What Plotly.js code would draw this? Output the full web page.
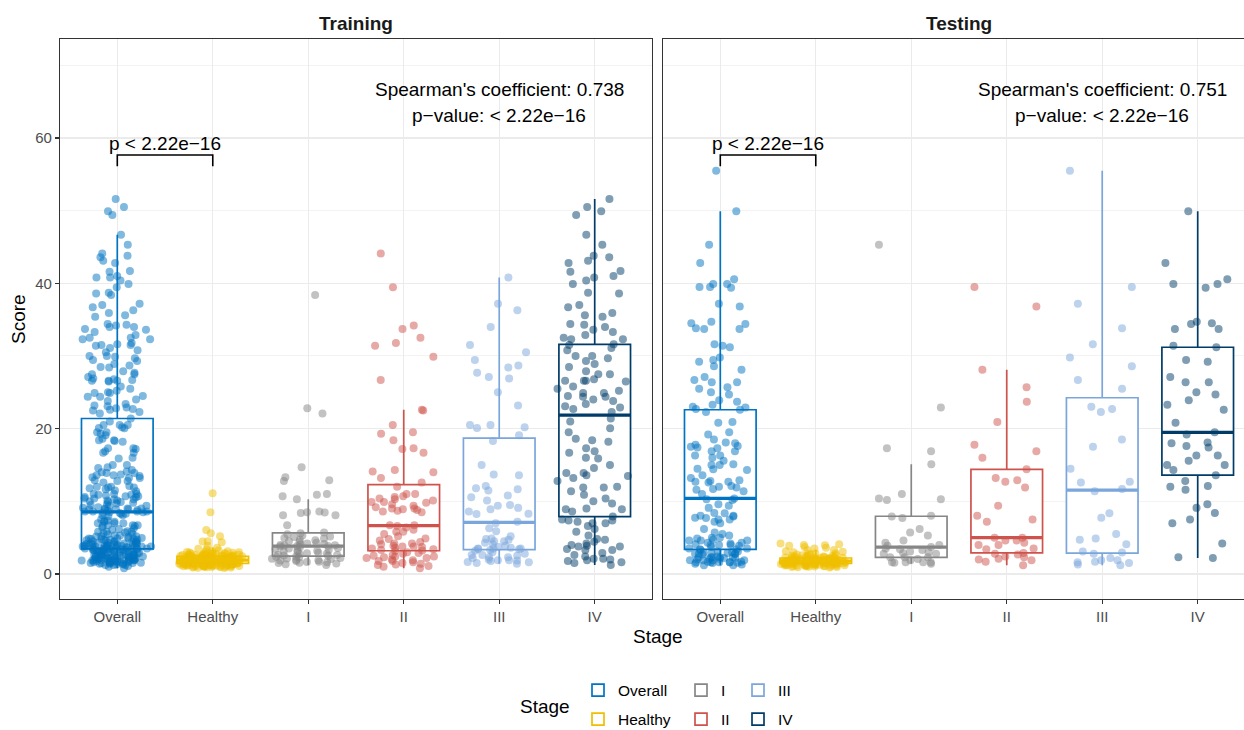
<!DOCTYPE html>
<html>
<head>
<meta charset="utf-8">
<script src="https://cdn.plot.ly/plotly-3.0.1.min.js"></script>
<style>
  html, body { margin: 0; padding: 0; overflow: hidden; background: #ffffff; }
  #chart { width: 1256px; height: 730px; }
</style>
</head>
<body>
<div id="chart"></div>
<script>
// ---------- categories / labels ----------
const stages = ['Overall', 'Healthy', 'I', 'II', 'III', 'IV'];
const facetNames = ['Training', 'Testing'];
const spearmanText = ["Spearman's coefficient: 0.738", "Spearman's coefficient: 0.751"];
const spearmanP = ['p\u2212value: < 2.22e\u221216', 'p\u2212value: < 2.22e\u221216'];
const compareP = ['p < 2.22e\u221216', 'p < 2.22e\u221216'];
const yTicks = [0, 20, 40, 60];

// ---------- Training scores ----------
const trainHealthy = [11.1, 8.5, 6.05, 5.6, 5.2, 4.5, 4.46, 4.38, 3.9, 3.62, 3.48, 3.41, 3.27, 3.18, 3.12, 3.03, 2.97, 2.93, 2.88, 2.81, 2.79, 2.72, 2.66, 2.64, 2.57, 2.55, 2.51, 2.47, 2.44, 2.43,
  2.41, 2.46, 2.52, 2.58, 2.63, 2.69, 2.74, 2.83, 2.91, 3.01, 2.45, 2.49, 2.54, 2.61, 2.77, 2.86, 3.08, 2.42, 2.5, 2.67,
  2.39, 2.37, 2.33, 2.31, 2.29, 2.26, 2.22, 2.21, 2.17, 2.15, 2.13, 2.11, 2.09, 2.06, 2.06, 2.03, 2.01, 1.99, 1.98, 1.96, 1.95, 1.93, 1.93, 1.92, 1.91, 1.9, 1.9,
  1.91, 1.94, 1.97, 2.0, 2.02, 2.05, 2.08, 2.1, 2.12, 2.14, 2.16, 2.19, 2.23, 2.25, 2.28, 2.3, 2.32, 2.35, 2.36, 2.38,
  1.88, 1.87, 1.85, 1.83, 1.83, 1.81, 1.79, 1.76, 1.76, 1.73, 1.71, 1.7, 1.69, 1.66, 1.64, 1.63, 1.61, 1.6, 1.58, 1.56, 1.55, 1.53, 1.52, 1.5, 1.49, 1.48, 1.47,
  1.48, 1.5, 1.53, 1.55, 1.57, 1.59, 1.62, 1.65, 1.67, 1.68, 1.72, 1.74, 1.75, 1.78, 1.8, 1.82, 1.84, 1.86, 1.87, 1.89,
  1.46, 1.44, 1.43, 1.41, 1.39, 1.36, 1.35, 1.33, 1.31, 1.29, 1.28, 1.26, 1.24, 1.22, 1.19, 1.18, 1.15, 1.13, 1.11, 1.09, 1.06, 1.04, 1.01, 0.98, 0.95, 0.92, 0.88, 0.83,
  0.86, 0.9, 0.96, 1.0, 1.03, 1.07, 1.1, 1.12, 1.16, 1.2, 1.23, 1.25, 1.27, 1.3, 1.32, 1.37, 1.4, 1.42, 1.45, 1.46];
const trainI = [38.4, 22.8, 22.1, 14.7, 13.3, 12.9, 12.8, 11.0, 10.9, 10.7, 10.3, 8.5, 8.45, 8.1, 8.1, 8.6, 8.4, 6.7, 5.7,
  5.62, 5.48, 5.3, 5.15, 5.1, 4.95, 4.88, 4.7, 4.66, 4.52, 4.41, 4.3, 4.18, 4.12, 4.05, 3.99, 3.96, 3.91, 3.87,
  3.82, 3.78, 3.7, 3.58, 3.52, 3.44, 3.33, 3.25, 3.2, 3.12, 3.05, 2.94, 2.86, 2.8, 2.74, 2.66, 2.6, 2.55, 2.5,
  2.42, 2.38, 2.3, 2.2, 2.14, 2.1, 2.05, 1.96, 1.9, 1.85, 1.8, 1.7, 1.65, 1.6, 1.55, 1.5, 1.44, 1.35, 1.24];
const trainII = [44.1, 39.45, 34.2, 33.7, 32.5, 31.8, 31.4, 29.9, 26.7, 22.6, 22.5, 20.5, 19.5, 19.3, 18.4, 17.3, 17.2, 16.7, 14.3, 14.1, 14.0, 13.2, 12.6,
  12.0, 11.0, 11.0, 10.7, 10.4, 10.1, 9.9, 9.9, 9.8, 9.0, 9.0, 8.6, 8.7, 9.4, 10.6, 8.8, 9.2, 9.6, 8.5, 10.3, 8.9, 6.7, 6.7,
  6.6, 6.4, 6.1, 5.8, 5.8, 5.5, 5.2, 4.9, 4.8, 4.6, 4.4, 4.2, 4.2, 4.1, 3.9, 3.8, 3.8, 3.7, 3.6, 3.5, 3.4, 3.3, 3.25,
  3.15, 3.0, 2.9, 2.8, 2.6, 2.5, 2.4, 2.4, 2.3, 2.2, 2.2, 2.0, 1.9, 1.8, 1.8, 1.6, 1.5, 1.4, 1.3, 1.24, 1.1, 1.0, 0.8];
const trainIII = [40.8, 37.2, 36.3, 34.0, 31.5, 30.5, 29.45, 28.7, 28.4, 27.7, 27.1, 26.9, 25.0, 23.2, 20.5, 20.5, 20.2, 20.1, 19.1,
  18.3, 15.0, 13.7, 13.6, 12.1, 11.8, 11.65, 11.5, 10.8, 10.55, 10.1, 9.5, 9.4, 8.9, 8.3, 8.26, 9.1, 8.6, 7.2,
  7.0, 6.3, 5.9, 5.2, 4.9, 4.8, 4.7, 4.5, 4.5, 4.3, 4.1, 3.9, 3.7, 3.6, 3.5, 3.5, 3.5, 3.45, 3.42,
  3.3, 3.2, 3.0, 2.8, 2.6, 2.6, 2.5, 2.3, 2.3, 2.2, 2.0, 1.9, 1.9, 1.85, 1.8, 1.65, 1.6, 1.5, 1.4];
const trainIV = [51.6, 50.5, 49.9, 49.4, 46.7, 45.3, 43.8, 43.6, 43.1, 42.8, 41.7, 41.6, 41.0, 40.8, 40.4, 39.9, 38.7, 38.6, 37.0, 36.7, 35.9, 35.6, 35.4, 34.4, 34.3, 34.0, 33.6, 33.3, 32.9, 32.5, 32.3, 32.3,
  31.6, 31.5, 31.1, 30.8, 30.0, 30.0, 29.7, 29.3, 28.9, 28.5, 27.9, 27.5, 27.5, 26.8, 26.6, 26.6, 26.6, 26.5, 25.8, 25.5, 25.2, 24.9, 24.9, 24.5, 24.4, 24.4, 24.0, 23.8, 23.4, 23.1, 22.9, 22.7, 22.3,
  21.4, 21.0, 20.05, 19.5, 18.6, 18.4, 18.2, 17.3, 16.9, 16.7, 16.0, 15.9, 15.0, 14.6, 13.9, 13.9, 13.6, 13.5, 13.2, 12.8, 12.0, 11.9, 11.9, 11.4, 10.9, 10.4, 10.0, 9.7, 8.9, 8.6, 8.9, 9.0,
  7.9, 7.5, 7.35, 7.35, 7.2, 7.0, 7.0, 6.6, 6.2, 5.8, 5.3, 4.8, 4.7, 4.45, 4.2, 4.0, 3.9, 3.8, 3.8, 3.45, 3.3, 3.3, 2.9, 2.6, 2.4, 2.1, 2.1, 2.0, 1.9, 1.8, 1.6, 1.5, 1.24];

// ---------- Testing scores ----------
const testHealthy = [4.2, 4.1, 4.0, 3.95, 3.9, 3.62, 3.5, 3.31, 3.12, 2.98, 2.86, 2.77, 2.68, 2.6, 2.52, 2.46, 2.4, 2.36, 2.31, 2.27, 2.24, 2.21,
  2.22, 2.26, 2.3, 2.35, 2.42, 2.5, 2.58, 2.7, 2.85, 3.05, 3.3, 3.7,
  2.19, 2.16, 2.13, 2.11, 2.08, 2.06, 2.04, 2.01, 1.99, 1.97, 1.95, 1.93, 1.91, 1.89, 1.87, 1.85, 1.84, 1.82, 1.81, 1.8, 1.8, 1.79,
  1.81, 1.84, 1.87, 1.9, 1.94, 1.98, 2.0, 2.03, 2.07, 2.1, 2.14, 2.18,
  1.78, 1.76, 1.75, 1.73, 1.71, 1.7, 1.68, 1.66, 1.65, 1.63, 1.61, 1.6, 1.58, 1.57, 1.55, 1.53, 1.52, 1.51, 1.49, 1.48, 1.47, 1.46,
  1.47, 1.5, 1.53, 1.56, 1.6, 1.62, 1.65, 1.69, 1.72, 1.74, 1.77, 1.79,
  1.44, 1.43, 1.41, 1.39, 1.37, 1.35, 1.33, 1.31, 1.29, 1.27, 1.25, 1.22, 1.2, 1.17, 1.15, 1.12, 1.09, 1.06, 1.03, 0.99, 0.95, 0.9,
  0.92, 0.97, 1.02, 1.07, 1.11, 1.16, 1.19, 1.24, 1.3, 1.34, 1.38, 1.42];
const testI = [45.3, 22.9, 17.3, 16.9, 15.1, 11.0, 10.4, 10.3, 10.2, 8.0, 7.9, 7.7, 6.2, 5.7, 5.3, 4.6, 4.3, 4.0, 3.9, 3.7, 3.5, 3.4, 3.3, 3.1, 3.0, 2.9, 2.8, 2.8, 2.3, 2.3, 2.3, 2.05, 1.9, 1.6, 1.6, 1.6, 1.6, 1.55, 1.4];
const testII = [39.5, 36.8, 28.1, 25.7, 23.7, 20.9, 17.8, 16.9, 16.0, 14.4, 13.2, 12.9, 12.7, 11.9, 9.4, 8.0, 7.5, 7.2, 5.0, 5.0, 4.6, 4.6, 4.3, 4.0, 4.0, 3.5, 3.4, 2.9, 2.8, 2.7, 2.4, 2.3, 2.1, 2.0, 1.9, 1.7, 1.2];
const testIII = [55.5, 39.5, 37.2, 33.8, 31.6, 29.8, 28.6, 26.7, 25.5, 23.0, 22.7, 22.3, 18.5, 17.5, 14.5, 12.7, 12.6, 11.7, 11.4, 8.35, 7.75, 5.5, 4.9, 4.7, 4.1, 3.1, 2.95, 2.8, 2.2, 1.9, 1.9, 1.7, 1.6, 1.5, 1.3, 1.2];
const testIV = [49.9, 42.8, 40.55, 39.9, 39.9, 39.4, 34.7, 34.5, 34.4, 33.7, 33.7, 31.4, 31.2, 29.45, 29.2, 27.1, 26.4, 26.4, 25.0, 24.7, 23.9, 23.3, 22.6, 20.8, 19.5, 19.2, 18.1, 18.0, 17.6, 17.4, 16.3, 16.3, 15.6, 15.0, 15.0, 14.3, 13.6, 12.8, 12.1, 12.0, 11.6, 9.6, 9.1, 8.4, 7.5, 7.0, 4.2, 2.3, 2.2];

// "Overall" = all staged cancer samples (stages I-IV pooled)
const trainOverall = [].concat(trainI, trainII, trainIII, trainIV);
const testOverall = [].concat(testI, testII, testIII, testIV);

const facetData = [
  { Overall: trainOverall, Healthy: trainHealthy, I: trainI, II: trainII, III: trainIII, IV: trainIV },
  { Overall: testOverall, Healthy: testHealthy, I: testI, II: testII, III: testIII, IV: testIV }
];

// ---------- styles ----------
const stageColors = { Overall: '#0073C2', Healthy: '#EFC000', I: '#868686', II: '#CD534C', III: '#7AA6DC', IV: '#003C67' };
const legendOf = { Overall: 'legend', Healthy: 'legend', I: 'legend2', II: 'legend2', III: 'legend3', IV: 'legend3' };
const FONT = 'Liberation Sans, Arial, Helvetica, sans-serif';
const bracketTop = 57.66, bracketTip = 56.1;
const bandCuts = [0.25, 0.5, 0.75, 0.9];   // points are split into rank bands so the library's jitter spreads evenly

function median(a) {
  const s = a.slice().sort((p, q) => p - q);
  const n = s.length;
  return n % 2 ? s[(n - 1) / 2] : (s[n / 2 - 1] + s[n / 2]) / 2;
}
function rankBands(a) {
  const s = a.slice().sort((p, q) => p - q);
  const n = s.length;
  const idx = [0].concat(bandCuts.map(c => Math.floor(n * c)), [n]);
  const out = [];
  for (let i = 0; i < idx.length - 1; i++) if (idx[i + 1] > idx[i]) out.push(s.slice(idx[i], idx[i + 1]));
  return out;
}

const traces = [];
facetData.forEach((fd, fi) => {
  const xa = fi === 0 ? 'x' : 'x2';
  const ya = fi === 0 ? 'y' : 'y2';
  stages.forEach(st => {
    const vals = fd[st];
    const col = stageColors[st];
    // box with whiskers at 1.5 IQR (outlier markers hidden; all points drawn below)
    traces.push({
      type: 'box', xaxis: xa, yaxis: ya,
      x: vals.map(() => st), y: vals,
      name: st, legendgroup: st, legend: legendOf[st], showlegend: fi === 0,
      width: 0.75, boxpoints: 'outliers', quartilemethod: 'inclusive', whiskerwidth: 0,
      fillcolor: '#ffffff',
      line: { color: col, width: 1.7 },
      marker: { color: col, size: 8, opacity: 0 },
      hoverinfo: 'skip'
    });
    // jittered points
    rankBands(vals).forEach(band => {
      traces.push({
        type: 'box', xaxis: xa, yaxis: ya,
        x: band.map(() => st), y: band,
        width: 0.8, boxpoints: 'all', jitter: 1, pointpos: 0,
        fillcolor: 'rgba(0,0,0,0)', line: { width: 0, color: 'rgba(0,0,0,0)' },
        marker: { color: col, size: 8, opacity: 0.5, line: { width: 0 } },
        legendgroup: st, showlegend: false, hoverinfo: 'y'
      });
    });
    // thicker median bar
    const m = median(vals);
    traces.push({
      type: 'box', xaxis: xa, yaxis: ya, orientation: 'v',
      x: [st], q1: [m], median: [m], q3: [m], lowerfence: [m], upperfence: [m],
      width: 0.75, whiskerwidth: 0, boxpoints: false,
      fillcolor: 'rgba(0,0,0,0)', line: { color: col, width: 3.2 },
      legendgroup: st, showlegend: false, hoverinfo: 'skip'
    });
  });
  // comparison bracket Overall vs Healthy
  traces.push({
    type: 'scatter', mode: 'lines', xaxis: xa, yaxis: ya,
    x: ['Overall', 'Overall', 'Healthy', 'Healthy'],
    y: [bracketTip, bracketTop, bracketTop, bracketTip],
    line: { color: '#000000', width: 1.6 },
    showlegend: false, hoverinfo: 'skip'
  });
});

const L = 60, R = 1, T = 39, B = 131, W = 1256, H = 730;
const plotW = W - L - R;
const plotH = H - T - B;
const dom1 = [0, 592 / plotW];
const dom2 = [603 / plotW, 1];

const axisCommon = {
  showgrid: true, gridcolor: '#EBEBEB', gridwidth: 1.1,
  showline: true, mirror: true, linecolor: '#333333', linewidth: 1.1,
  ticks: 'outside', ticklen: 4, tickwidth: 1.1, tickcolor: '#333333',
  tickfont: { family: FONT, size: 15, color: '#4D4D4D' },
  zeroline: false
};
const xaxisCommon = Object.assign({}, axisCommon, {
  type: 'category', categoryorder: 'array', categoryarray: stages, range: [-0.6, 5.6]
});
const yaxisCommon = Object.assign({}, axisCommon, {
  range: [-3.44, 73.62], tickvals: yTicks, ticktext: yTicks.map(String),
  minor: { tickvals: [10, 30, 50, 70], showgrid: true, gridcolor: '#EBEBEB', gridwidth: 0.6, ticks: '' }
});

const annotations = [];
facetNames.forEach((fn, fi) => {
  const xr = fi === 0 ? 'x' : 'x2';
  const yr = fi === 0 ? 'y' : 'y2';
  const dom = fi === 0 ? dom1 : dom2;
  annotations.push({ xref: 'paper', yref: 'paper', x: (dom[0] + dom[1]) / 2, y: 1 + 16 / plotH,
    text: fn, showarrow: false, xanchor: 'center', yanchor: 'middle',
    font: { family: FONT, size: 19, color: '#1A1A1A', weight: 'bold' } });
  annotations.push({ xref: xr, yref: yr, x: stages.indexOf('III'), y: 66.74, text: spearmanText[fi],
    showarrow: false, xanchor: 'center', yanchor: 'middle', font: { family: FONT, size: 19, color: '#000000' } });
  annotations.push({ xref: xr, yref: yr, x: stages.indexOf('III'), y: 63.03, text: spearmanP[fi],
    showarrow: false, xanchor: 'center', yanchor: 'middle', font: { family: FONT, size: 19, color: '#000000' } });
  annotations.push({ xref: xr, yref: yr, x: 0.5, y: 59.3, text: compareP[fi],
    showarrow: false, xanchor: 'center', yanchor: 'middle', font: { family: FONT, size: 19, color: '#000000' } });
});
annotations.push({ xref: 'paper', yref: 'paper', x: 0.5, y: -37 / plotH, text: 'Stage', showarrow: false,
  xanchor: 'center', yanchor: 'middle', font: { family: FONT, size: 19, color: '#000000' } });
annotations.push({ xref: 'paper', yref: 'paper', x: -42 / plotW, y: 0.5, text: 'Score', textangle: -90, showarrow: false,
  xanchor: 'center', yanchor: 'middle', font: { family: FONT, size: 19, color: '#000000' } });
annotations.push({ xref: 'paper', yref: 'paper', x: (545 - L) / plotW, y: -(706 - (H - B)) / plotH, text: 'Stage', showarrow: false,
  xanchor: 'center', yanchor: 'middle', font: { family: FONT, size: 19, color: '#000000' } });

const legendCommon = {
  orientation: 'v', xanchor: 'left', yanchor: 'middle', y: -(705 - (H - B)) / plotH,
  font: { family: FONT, size: 15.5, color: '#000000' }, tracegroupgap: 6,
  bgcolor: 'rgba(0,0,0,0)', borderwidth: 0
};

const layout = {
  width: W, height: H,
  margin: { l: L, r: R, t: T, b: B, autoexpand: false },
  paper_bgcolor: '#ffffff', plot_bgcolor: '#ffffff',
  font: { family: FONT },
  boxmode: 'overlay',
  showlegend: true,
  xaxis: Object.assign({}, xaxisCommon, { domain: dom1, anchor: 'y' }),
  xaxis2: Object.assign({}, xaxisCommon, { domain: dom2, anchor: 'y2' }),
  yaxis: Object.assign({}, yaxisCommon, { anchor: 'x' }),
  yaxis2: Object.assign({}, yaxisCommon, { anchor: 'x2', matches: 'y', showticklabels: false, ticks: '' }),
  legend: Object.assign({}, legendCommon, { x: (578 - L) / plotW }),
  legend2: Object.assign({}, legendCommon, { x: (681 - L) / plotW }),
  legend3: Object.assign({}, legendCommon, { x: (738 - L) / plotW }),
  annotations: annotations
};

Plotly.newPlot('chart', traces, layout, { displayModeBar: false, staticPlot: true });
</script>
</body>
</html>
